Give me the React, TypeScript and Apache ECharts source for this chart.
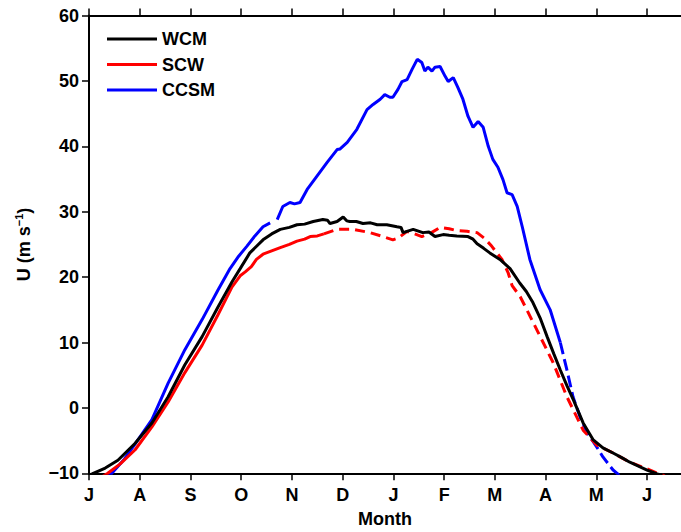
import React, { useEffect, useRef } from "react";
import * as echarts from "echarts";

const monthLabels = ["J", "A", "S", "O", "N", "D", "J", "F", "M", "A", "M", "J", ""];
const yTicks = { min: -10, max: 60, interval: 10 };

// [month since 1 July, U (m/s)]
const wcm: [number, number][] = [
  [0, -10.3], [0.06, -10.1], [0.32, -9.2], [0.57, -8], [0.91, -5.4], [1.24, -2.3], [1.56, 1.7],
  [1.89, 6.6], [2.23, 10.9], [2.54, 15.4], [2.82, 19.3], [2.98, 21.3], [3.17, 23.7], [3.43, 25.7],
  [3.6, 26.6], [3.77, 27.3], [3.95, 27.6], [4.1, 28], [4.25, 28.1], [4.42, 28.5], [4.61, 28.8],
  [4.7, 28.7], [4.75, 28.2], [4.89, 28.5], [5.01, 29.2], [5.08, 28.6], [5.14, 28.5], [5.27, 28.5],
  [5.4, 28.2], [5.55, 28.3], [5.68, 28.0], [5.87, 28], [6.07, 27.7], [6.15, 27.6], [6.19, 26.8],
  [6.39, 27.3], [6.58, 26.8], [6.7, 26.9], [6.82, 26.2], [6.98, 26.5], [7.1, 26.4], [7.25, 26.3],
  [7.47, 26.2], [7.57, 25.8], [7.65, 25.1], [7.78, 24.4], [7.9, 23.7], [8.1, 22.7], [8.3, 21.3],
  [8.49, 19.1], [8.62, 17.8], [8.75, 16.1], [8.9, 13.6], [9.03, 10.9], [9.16, 8.3], [9.29, 5.8],
  [9.42, 3.4], [9.55, 1.2], [9.74, -2.3], [9.94, -4.9], [10.13, -6.1], [10.33, -6.9], [10.5, -7.6],
  [10.66, -8.3], [10.83, -8.9], [11.0, -9.5], [11.2, -10.1], [11.3, -10.3],
];

const scwSolid: [number, number][] = [
  [0, -11.3], [0.2, -10.8], [0.37, -10], [0.61, -8.6], [0.91, -6.4], [1.24, -2.9], [1.56, 0.9],
  [1.89, 5.4], [2.23, 9.6], [2.54, 14.2], [2.82, 18.5], [2.98, 20.2], [3.08, 20.8], [3.2, 21.6],
  [3.3, 22.7], [3.43, 23.5], [3.6, 24], [3.77, 24.5], [3.95, 25], [4.1, 25.5], [4.25, 25.8],
  [4.36, 26.2], [4.5, 26.3], [4.63, 26.6],
];

const scwDashed: [number, number][] = [
  [4.63, 26.6], [4.89, 27.3], [5.2, 27.3], [5.54, 26.8], [5.75, 26.3], [5.87, 26.0], [5.99, 25.7],
  [6.1, 26.0], [6.27, 27], [6.42, 26.6], [6.56, 26.2], [6.75, 26.8], [6.92, 27.6], [7.1, 27.4],
  [7.25, 27.1], [7.45, 27.0], [7.65, 26.8], [7.8, 25.9], [7.94, 24.7], [8.14, 22.7], [8.26, 20.7],
  [8.34, 18.7], [8.5, 17], [8.63, 15], [8.83, 11.9], [9.15, 6.9], [9.42, 1.7], [9.74, -3.4],
  [10.01, -5.7], [10.33, -6.9], [10.66, -8.3], [11.06, -9.5], [11.2, -10], [11.35, -10.4],
];

const ccsmA: [number, number][] = [
  [0.3, -11], [0.45, -10], [0.7, -7.8], [0.91, -5.5], [1.24, -1.8], [1.56, 3.8], [1.89, 8.9],
  [2.23, 13.5], [2.54, 18], [2.78, 21.3], [2.95, 23.2], [3.11, 24.7], [3.27, 26.3], [3.43, 27.7],
  [3.57, 28.3],
];

const ccsmB: [number, number][] = [
  [3.71, 28.8], [3.82, 30.8], [3.96, 31.4], [4.05, 31.2], [4.16, 31.4], [4.3, 33.4], [4.49, 35.4],
  [4.69, 37.5], [4.89, 39.5], [4.95, 39.6], [5.09, 40.6], [5.28, 42.6], [5.48, 45.6], [5.6, 46.4],
  [5.74, 47.2], [5.83, 47.9], [5.93, 47.5], [5.99, 47.5], [6.09, 48.7], [6.17, 49.9], [6.27, 50.2],
  [6.37, 51.8], [6.47, 53.3], [6.56, 52.8], [6.62, 51.5], [6.68, 52.1], [6.76, 51.5], [6.82, 52.1],
  [6.92, 52.2], [7.02, 50.7], [7.08, 49.9], [7.18, 50.5], [7.27, 49], [7.37, 47.2], [7.47, 44.6],
  [7.57, 42.9], [7.67, 43.8], [7.77, 42.9], [7.87, 40], [7.96, 38], [8.06, 36.8], [8.16, 34.9],
  [8.24, 32.9], [8.34, 32.6], [8.44, 30.8], [8.54, 27.7], [8.63, 24.7], [8.69, 22.7], [8.89, 18.1],
  [9.09, 15], [9.29, 10],
];

const ccsmC: [number, number][] = [
  [9.29, 10], [9.42, 5.8], [9.54, 1.7], [9.68, -1.4], [9.82, -3.8], [10.01, -6], [10.13, -7.5],
  [10.33, -9.5], [10.41, -10], [10.5, -10.8],
];

const FONT = "'Liberation Sans', Arial, Helvetica, sans-serif";

export default function App() {
  const ref = useRef<HTMLDivElement>(null);
  useEffect(() => {
    if (!ref.current) return;
    const chart = echarts.init(ref.current, undefined, { renderer: "svg" });
    const axisBase = {
      type: "value" as const,
      min: 0,
      max: 12,
      interval: 1,
      axisLine: { show: true, onZero: false, lineStyle: { color: "#000", width: 2 } },
      axisTick: { show: true, inside: false, length: 7, lineStyle: { color: "#000", width: 1.5 } },
      splitLine: { show: false },
    };
    const line = (name: string, data: [number, number][], color: string, type: any) => ({
      name,
      type: "line",
      data,
      showSymbol: false,
      symbol: "none",
      smooth: false,
      clip: true,
      lineStyle: { color, width: 3, type },
      itemStyle: { color },
      z: name === "WCM" ? 5 : name === "SCW" ? 4 : 3,
    });
    chart.setOption({
      animation: false,
      backgroundColor: "#fff",
      textStyle: { fontFamily: FONT },
      grid: { left: 89, top: 15.5, width: 608.8, height: 457.8, containLabel: false },
      legend: {
        orient: "vertical",
        left: 107,
        top: 29,
        padding: 0,
        icon: "rect",
        itemWidth: 50,
        itemHeight: 3,
        itemGap: 5.5,
        data: ["WCM", "SCW", "CCSM"],
        textStyle: { fontFamily: FONT, fontWeight: "bold", fontSize: 18, lineHeight: 20, color: "#000" },
      },
      xAxis: [
        {
          ...axisBase,
          position: "bottom",
          axisLabel: {
            show: true,
            margin: 13,
            fontFamily: FONT,
            fontWeight: "bold",
            fontSize: 18,
            color: "#000",
            formatter: (v: number) => monthLabels[Math.round(v)] ?? "",
          },
        },
        {
          ...axisBase,
          position: "top",
          axisLabel: { show: false },
        },
      ],
      yAxis: {
        type: "value",
        min: yTicks.min,
        max: yTicks.max,
        interval: yTicks.interval,
        axisLine: { show: true, lineStyle: { color: "#000", width: 2 } },
        axisTick: { show: true, inside: false, length: 7, lineStyle: { color: "#000", width: 1.5 } },
        splitLine: { show: false },
        axisLabel: {
          margin: 10,
          fontFamily: FONT,
          fontWeight: "bold",
          fontSize: 18,
          color: "#000",
          formatter: (v: number) => (v < 0 ? "\u2212" + Math.abs(v) : String(v)),
        },
        name: "{a|U (m s}{s|\u22121}{a|)}",
        nameLocation: "middle",
        nameRotate: 90,
        nameGap: 54,
        nameTextStyle: {
          rich: {
            a: { fontFamily: FONT, fontWeight: "bold", fontSize: 18, color: "#000", lineHeight: 22 },
            s: { fontFamily: FONT, fontWeight: "bold", fontSize: 11, color: "#000", lineHeight: 22, verticalAlign: "top", padding: [0, 0, 8, 0] },
          },
        },
      },
      graphic: [
        {
          type: "text",
          left: 358,
          top: 510,
          style: { text: "Month", fontFamily: FONT, fontWeight: "bold", fontSize: 18, fill: "#000" },
        },
      ],
      series: [
        line("CCSM", ccsmA, "#0000ff", "solid"),
        line("CCSM", ccsmB, "#0000ff", "solid"),
        line("CCSM", ccsmC, "#0000ff", [12, 5]),
        line("SCW", scwSolid, "#ff0000", "solid"),
        line("SCW", scwDashed, "#ff0000", [10, 6]),
        line("WCM", wcm, "#000000", "solid"),
      ],
    });
    return () => chart.dispose();
  }, []);
  return (
    <div style={{ position: "fixed", left: 0, top: 0, width: 681, height: 532, overflow: "hidden", background: "#fff" }}>
      <div ref={ref} style={{ width: 720, height: 532 }} />
    </div>
  );
}
